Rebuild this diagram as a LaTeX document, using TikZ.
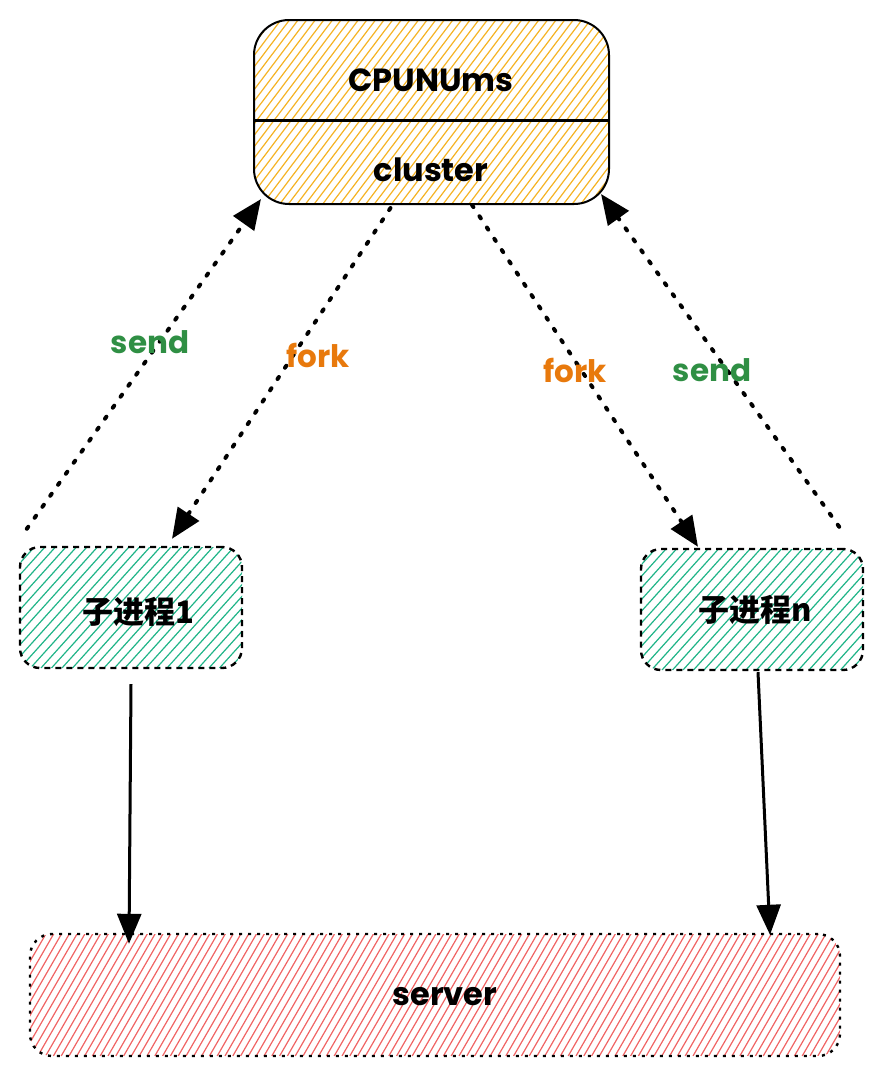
\documentclass[tikz,border=0pt]{standalone}
\usepackage{fontspec}
\setmainfont{Poppins}
\newfontfamily\cjk{Noto Sans CJK SC}
\usetikzlibrary{positioning,calc,arrows.meta}
\definecolor{hatchorange}{HTML}{F5B324}
\definecolor{hatchgreen}{HTML}{20B488}
\definecolor{hatchred}{HTML}{F06464}
\definecolor{sendgreen}{HTML}{2F8F44}
\definecolor{forkorange}{HTML}{E8790C}

\begin{document}
\begin{tikzpicture}[x=1pt,y=-1pt,
  every node/.style={inner sep=0pt},
  hatch/.style n args={3}{path picture={
    \foreach \k in {-30,...,110}
      \draw[#1,solid,line width=1.2pt] ($(path picture bounding box.south west)+(\k*#2,0)$) -- ++(-#3:420);}},
  mainbox/.style={draw=black,line width=2pt,rounded corners=35pt,minimum width=355pt,minimum height=184pt,
    hatch={hatchorange}{8.6}{53}},
  procbox/.style={draw=black,line width=2.4pt,dash pattern=on 6pt off 5pt,rounded corners=20pt,minimum width=222pt,minimum height=121pt,
    hatch={hatchgreen}{10.5}{48}},
  serverbox/.style={draw=black,line width=2.4pt,dash pattern=on 3pt off 6pt,rounded corners=22pt,minimum width=810pt,minimum height=122pt,
    hatch={hatchred}{7.8}{60}},
  boxtext/.style={font=\fontsize{32}{36}\selectfont\bfseries},
  proctext/.style={font=\cjk\fontsize{31}{34}\selectfont\bfseries},
  sendlabel/.style={text=sendgreen,font=\fontsize{31}{34}\selectfont\bfseries},
  forklabel/.style={text=forkorange,font=\fontsize{31}{34}\selectfont\bfseries},
  dotarrow/.style={line width=4pt,line cap=round,dash pattern=on 2.5pt off 11pt,-{Triangle[length=30pt,width=25pt]}},
  solidarrow/.style={line width=3pt,-{Triangle[length=30pt,width=24pt]}}]
\useasboundingbox (0,0) rectangle (881,1076);
\node[mainbox] (top) at (431.5,112) {};
\draw[line width=3pt] ($(top.west)+(0,8)$) -- ($(top.east)+(0,8)$);
\node[boxtext] (cpu) at (431,80) {CPUNUms};
\node[boxtext] (cluster) at (431,170) {cluster};
\node[procbox] (c1) at (131,607.5) {};
\node[proctext] (c1text) at (138,612) {子进程1};
\node[procbox] (cn) at (752,609.5) {};
\node[proctext] (cntext) at (755,610) {子进程n};
\node[serverbox] (server) at (435,995) {};
\node[boxtext] (servertext) at (445,997) {server};
\draw[dotarrow] ($(c1.north west)+(8,-17)$) -- ($(top.south west)+(8,-6)$);
\draw[dotarrow] ($(top.south)+(-41,3)$) -- ($(c1.north)+(41,-7)$);
\draw[dotarrow] ($(top.south)+(40.5,0)$) -- ($(cn.north)+(-54,-1)$);
\draw[dotarrow] ($(cn.north east)+(-25,-21)$) -- ($(top.south east)+(-9,-11)$);
\draw[solidarrow] ($(c1.south)+(0,15)$) -- ($(server.north)+(-306,11)$);
\draw[solidarrow] ($(cn.south)+(6,1)$) -- ($(server.north)+(335,2)$);
\node[sendlabel] (send1) at (150,342) {send};
\node[forklabel] (fork1) at (318,355) {fork};
\node[forklabel] (forkn) at (575,370) {fork};
\node[sendlabel] (sendn) at (712,370) {send};
\end{tikzpicture}
\end{document}
